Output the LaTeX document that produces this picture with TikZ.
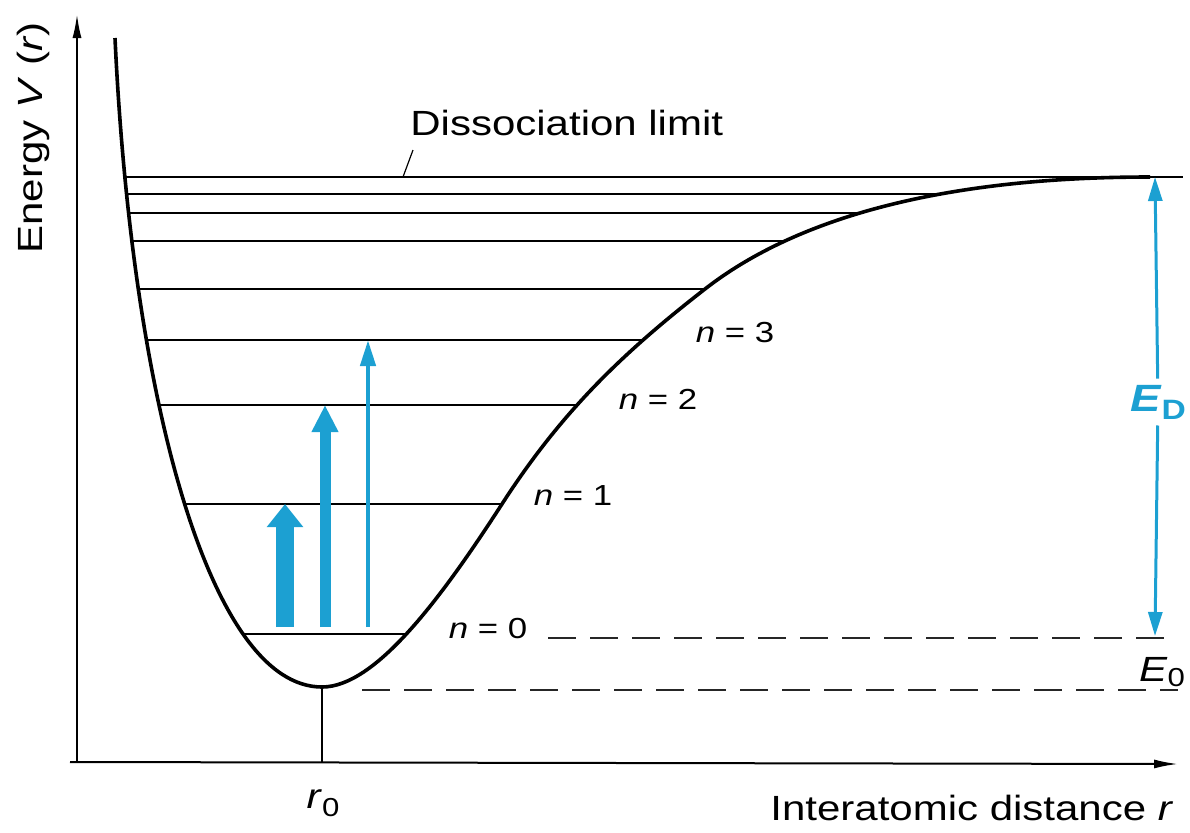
\documentclass[tikz,border=0pt]{standalone}
\usepackage{fontspec}
\setmainfont{Liberation Sans}[FakeStretch=1.2]
\usepackage{xcolor}
\usetikzlibrary{arrows.meta}
\definecolor{vibblue}{RGB}{28,160,210}
\newcommand\wellpath{(115,38) .. controls (132,400) and (210,687) .. (322,687)
    .. controls (375,687) and (440,600) .. (502,504)
    .. controls (560,414) and (620,355) .. (705,289)
    .. controls (800,215) and (950,177) .. (1150,177)}

\begin{document}
\begin{tikzpicture}[
    x=0.5pt,y=-0.5pt,
    axisline/.style={line width=1pt,-{Latex[length=12pt,width=4.5pt]}},
    morse/.style={line width=1.8pt,line join=round},
    vlevel/.style={line width=1pt},
    limit/.style={line width=1pt,draw=black!85,dash pattern=on 14pt off 7pt},
    txt/.style={font=\fontsize{17.5}{20}\selectfont,inner sep=0pt},
    ntxt/.style={font=\fontsize{14.5}{16}\selectfont,inner sep=0pt},
    jump/.style={draw=vibblue,line width=#1},
    edarrow/.style={draw=vibblue,line width=1.5pt,-{Triangle[width=7pt,length=12pt]}}
]
\useasboundingbox (0,0) rectangle (1190,832);
\coordinate (origin) at (77,762);
\coordinate (ytip) at (77,14);
\coordinate (xstart) at (70,762);
\coordinate (xtip) at (1178,764);
\draw[axisline] (origin) -- (ytip);
\draw[axisline] (xstart) -- (xtip);
\begin{scope}
\clip \wellpath -- (1190,177) -- (1190,0) -- (115,0) -- cycle;
\draw[vlevel] (100,194) -- (1190,194);
\draw[vlevel] (100,213) -- (1190,213);
\draw[vlevel] (100,241) -- (1190,241);
\draw[vlevel] (100,289) -- (1190,289);
\draw[vlevel] (100,340) -- (1190,340);
\draw[vlevel] (100,405) -- (1190,405);
\draw[vlevel] (100,504) -- (1190,504);
\draw[vlevel] (100,634) -- (1190,634);
\end{scope}
\draw[vlevel] (124,177) -- (1183,177);
\draw[morse] \wellpath;
\coordinate (rmin) at (322,687);
\draw[vlevel] (rmin) -- (rmin |- origin);
\draw[limit] (548,638) -- (1178,638);
\draw[limit] (362,690) -- (1178,690);
\coordinate (j0) at (285,627);
\coordinate (j1) at (285,504);
\coordinate (k0) at (325,627);
\coordinate (k2) at (325,405);
\coordinate (l0) at (368,627);
\coordinate (l3) at (368,340);
\draw[jump=9pt,-{Triangle[width=17.5pt,length=11.5pt]}] (j0) -- (j1);
\draw[jump=5.5pt,-{Triangle[width=12.5pt,length=13.5pt]}] (k0) -- (k2);
\draw[jump=2.2pt,-{Triangle[width=7.5pt,length=13pt]}] (l0) -- (l3);
\node[txt,rotate=90] (vlabel) at (33,138) {Energy \textit{V} (\textit{r})};
\node[txt,anchor=base west] (rlabel) at (770,820) {Interatomic distance \textit{r}};
\node[txt,anchor=base west] (dislabel) at (410,135) {Dissociation limit};
\coordinate (distop) at (413,150);
\coordinate (dislead) at (403,177);
\draw[line width=0.6pt] (distop) -- (dislead);
\node[ntxt] (n3) at (735,333) {\textit{n} = 3};
\node[ntxt] (n2) at (658,399) {\textit{n} = 2};
\node[ntxt] (n1) at (573,496) {\textit{n} = 1};
\node[ntxt] (n0) at (488,629) {\textit{n} = 0};
\node[txt] (r0) at (323,803) {\textit{r}\raisebox{-0.4ex}{\fontsize{13}{13}\selectfont 0}};
\node[txt] (E0) at (1162,672) {\textit{E}\raisebox{-0.3ex}{\fontsize{13}{13}\selectfont 0}};
\coordinate (dtop) at (1155,177);
\coordinate (dbot) at (1155,636);
\node[font=\fontsize{19}{22}\selectfont\bfseries,text=vibblue,inner sep=3pt] (ED) at (1158,402)
    {\textit{E}\raisebox{-0.4ex}{\fontsize{14}{14}\selectfont D}};
\draw[edarrow] (ED) -- (dtop);
\draw[edarrow] (ED) -- (dbot);
\end{tikzpicture}
\end{document}
